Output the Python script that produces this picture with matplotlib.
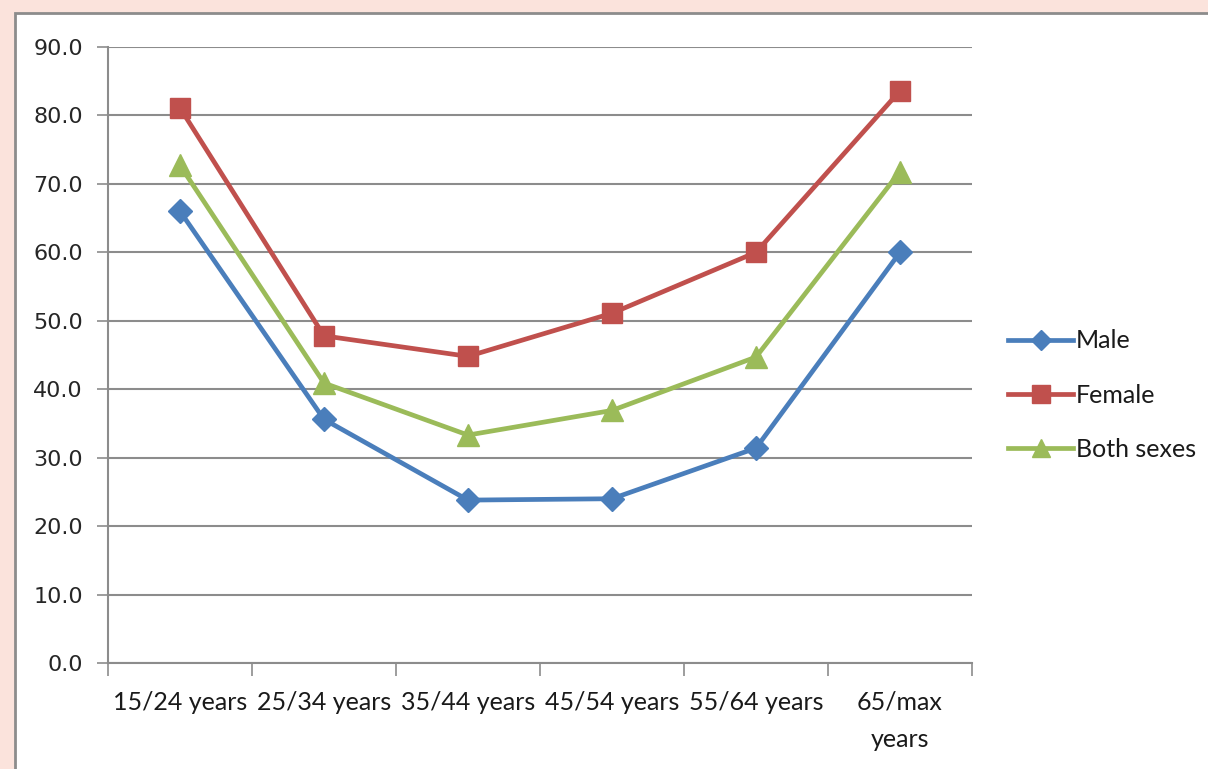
import matplotlib.pyplot as plt
from matplotlib.patches import Rectangle
from matplotlib.lines import Line2D

categories = ["15/24 years", "25/34 years", "35/44 years", "45/54 years",
              "55/64 years", "65/max\nyears"]
male = [66.0, 35.6, 23.8, 24.0, 31.4, 60.0]
female = [81.1, 47.8, 44.8, 51.1, 60.0, 83.6]
both = [72.7, 40.9, 33.3, 36.9, 44.7, 71.8]
y_ticks = [0, 10, 20, 30, 40, 50, 60, 70, 80, 90]

W, H = 1208, 769
fig = plt.figure(figsize=(W / 100, H / 100), dpi=100)
fig.patch.set_facecolor("#fbe3dc")

# white chart frame
frame = Rectangle((15 / W, 0 - 0.01), 1.02, 1 - 13 / H + 0.01, transform=fig.transFigure,
                  facecolor="white", edgecolor="#8c8c8c", linewidth=2.0, zorder=-5)
fig.patches.append(frame)

ax = fig.add_axes([108 / W, 1 - 663 / H, (972 - 108) / W, (663 - 47) / H])
ax.set_facecolor("none")
ax.set_zorder(2)

x = list(range(len(categories)))
series = [
    ("Male", male, "#4a7ebb", "D", 12),
    ("Female", female, "#c0504d", "s", 15),
    ("Both sexes", both, "#9bbb59", "^", 16),
]
handles = []
for name, vals, col, mk, ms in series:
    ax.plot(x, vals, color=col, linewidth=3.4, marker=mk, markersize=ms,
            markeredgecolor=col, markerfacecolor=col, zorder=3, clip_on=False)
    handles.append(Line2D([], [], color=col, linewidth=3.4, marker=mk,
                          markersize=ms * 0.85, markerfacecolor=col,
                          markeredgecolor=col, label=name))

ax.set_xlim(-0.5, len(categories) - 0.5)
ax.set_ylim(0, 90)
ax.set_yticks(y_ticks)
ax.set_yticklabels([f"{v:.1f}" for v in y_ticks], fontfamily="DejaVu Sans",
                   fontsize=16, color="#262626")
ax.yaxis.grid(True, color="#8c8c8c", linewidth=1.5)
ax.set_axisbelow(True)

# category boundaries as major ticks, labels on minor ticks
ax.set_xticks([i - 0.5 for i in range(len(categories) + 1)])
ax.set_xticklabels([])
ax.set_xticks(x, minor=True)
ax.set_xticklabels(categories, minor=True, fontfamily="Lato", fontsize=18,
                   color="#1a1a1a", linespacing=1.75)
ax.tick_params(axis="x", which="major", length=9, width=1.2, color="#8c8c8c",
               direction="out")
ax.tick_params(axis="x", which="minor", length=0, pad=20)
ax.tick_params(axis="y", length=8, width=1.2, color="#8c8c8c", direction="out",
               pad=10)

for s in ["top", "right"]:
    ax.spines[s].set_visible(False)
for s in ["left", "bottom"]:
    ax.spines[s].set_color("#8c8c8c")
    ax.spines[s].set_linewidth(1.5)

ax.legend(handles=handles, loc="center left", bbox_to_anchor=(998 / W, 1 - 395 / H),
          bbox_transform=fig.transFigure, frameon=False, prop={"family": "Lato", "size": 18},
          handlelength=2.6, handletextpad=0.1, labelspacing=1.25, borderaxespad=0,
          labelcolor="#1a1a1a")

fig.savefig("out.png", dpi=100, facecolor=fig.get_facecolor())
